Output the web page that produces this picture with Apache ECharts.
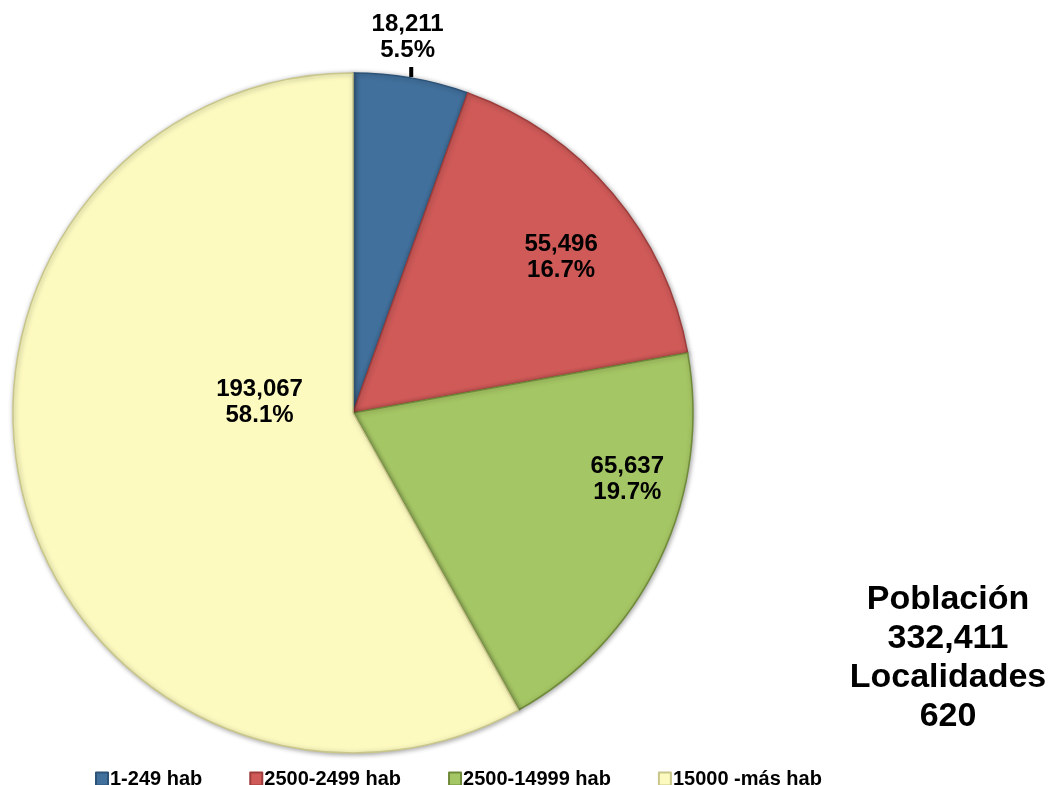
<!DOCTYPE html>
<html>
<head>
<meta charset="utf-8">
<script src="https://cdn.jsdelivr.net/npm/echarts@6/dist/echarts.min.js"></script>
<style>
html,body{margin:0;padding:0;background:#fff;}
#chart{width:1053px;height:785px;}
</style>
</head>
<body>
<div id="chart"></div>
<script>
// ---- data ----
const categories = ['1-249 hab', '2500-2499 hab', '2500-14999 hab', '15000 -más hab'];
const values = [18211, 55496, 65637, 193067];
const percentLabels = ['5.5%', '16.7%', '19.7%', '58.1%'];
const summaryLines = ['Población', '332,411', 'Localidades', '620'];

// ---- styling / layout ----
const colors = ['#41709C', '#CF5A58', '#A5C664', '#FCFABF'];
const borderColors = ['#2d5378', '#9e3d3b', '#6f8b3a', '#c9c68a'];
const pieCenter = [353, 413];
const pieRadius = 340;
const labelOffsets = [[25, -205], [76, -44], [118, -8], [74, -54]];

const chart = echarts.init(document.getElementById('chart'));

const total = values.reduce((a, b) => a + b, 0);
const fmt = v => v.toLocaleString('en-US');

// tick for the first slice label, computed from the data's mid angle
const midFrac = values[0] / 2 / total;
const midAng = midFrac * 2 * Math.PI;
const edgeX = pieCenter[0] + pieRadius * Math.sin(midAng);
const edgeY = pieCenter[1] - pieRadius * Math.cos(midAng);

const option = {
  backgroundColor: '#ffffff',
  legend: {
    data: categories,
    left: 90,
    top: 764,
    itemWidth: 12,
    itemHeight: 13,
    itemGap: 47,
    icon: 'rect',
    textStyle: {fontFamily: 'Liberation Sans, Arial', fontWeight: 'bold', fontSize: 20, color: '#000', padding: [0, 0, 0, -3]},
    selectedMode: false
  },
  graphic: [
    {
      type: 'text',
      left: 948 - 100,
      top: 580,
      style: {
        text: summaryLines.join('\n'),
        x: 0, y: 0,
        width: 200,
        textAlign: 'center',
        font: 'bold 34px "Liberation Sans", Arial',
        lineHeight: 39,
        fill: '#000'
      }
    },
    {
      type: 'rect',
      shape: {x: edgeX - 2, y: edgeY - 11, width: 4, height: 10},
      style: {fill: '#000'},
      z: 10
    }
  ],
  series: [{
    type: 'pie',
    center: pieCenter,
    radius: [0, pieRadius],
    startAngle: 90,
    clockwise: true,
    avoidLabelOverlap: false,
    data: categories.map((c, i) => ({
      name: c,
      value: values[i],
      itemStyle: {color: colors[i], borderColor: borderColors[i]}
    })),
    itemStyle: {
      borderWidth: 1.5,
      shadowBlur: 5,
      shadowColor: 'rgba(0,0,0,0.35)',
      shadowOffsetX: 1,
      shadowOffsetY: 1
    },
    label: {
      show: true,
      position: 'inside',
      formatter: p => fmt(p.value) + '\n' + percentLabels[p.dataIndex],
      fontFamily: 'Liberation Sans, Arial',
      fontWeight: 'bold',
      fontSize: 24,
      lineHeight: 26,
      color: '#000',
      align: 'center'
    },
    labelLine: {show: false},
    labelLayout: p => ({dx: labelOffsets[p.dataIndex][0], dy: labelOffsets[p.dataIndex][1]}),
    emphasis: {disabled: true}
  }]
};
chart.setOption(option);
</script>
</body>
</html>
